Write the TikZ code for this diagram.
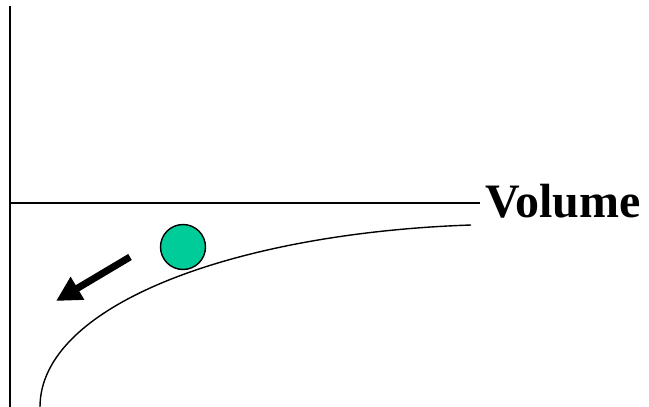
\documentclass[tikz,border=0pt]{standalone}
\usepackage{fontspec}
\setmainfont{Liberation Serif}
\usetikzlibrary{arrows.meta, positioning}
\definecolor{ballgreen}{RGB}{0,204,153}

\begin{document}
\begin{tikzpicture}[
        x=1pt, y=-1pt,
        axis/.style={line width=1.6pt},
        curve/.style={line width=1.4pt},
        ball/.style={circle, draw, line width=1.4pt, fill=ballgreen, minimum size=45pt, inner sep=0pt},
        roll/.style={-{Triangle[length=25pt, width=25pt]}, line width=7pt},
        label/.style={font=\fontsize{48}{48}\selectfont\bfseries, inner sep=0pt}
    ]
        \useasboundingbox (0,0) rectangle (649,407);
        \coordinate (top) at (10,6);
        \coordinate (origin) at (10,407);
        \coordinate (left) at (10,203);
        \coordinate (right) at (480,203);
        \coordinate (start) at (40,407);
        \coordinate (end) at (471,225);
        \coordinate (from) at (130,257);
        \coordinate (to) at (56,301);
        \draw[axis] (top) -- (origin);
        \draw[axis] (left) -- (right);
        \node[label, anchor=base west] (volume) at (485,217) {Volume};
        \draw[curve] (start) .. controls (40,305) and (235,233) .. (end);
        \node[ball] (ball) at (183,247) {};
        \draw[roll] (from) -- (to);
    \end{tikzpicture}
\end{document}
